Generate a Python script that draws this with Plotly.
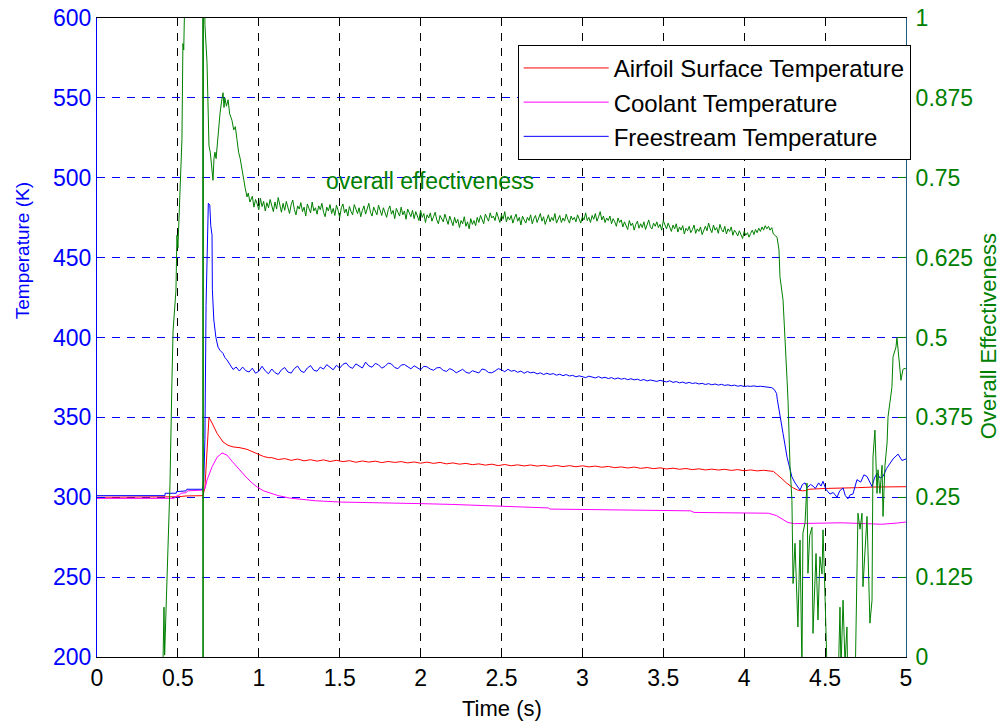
import numpy as np
import plotly.graph_objects as go

# ---------------- data ----------------
x_ticks = [0, 0.5, 1, 1.5, 2, 2.5, 3, 3.5, 4, 4.5, 5]
x_ticktext = ["0", "0.5", "1", "1.5", "2", "2.5", "3", "3.5", "4", "4.5", "5"]
temp_ticks = [200, 250, 300, 350, 400, 450, 500, 550, 600]
eff_ticks = [0, 0.125, 0.25, 0.375, 0.5, 0.625, 0.75, 0.875, 1]
eff_ticktext = ["0", "0.125", "0.25", "0.375", "0.5", "0.625", "0.75", "0.875", "1"]

# Freestream temperature (K)
free_early = [(0.0, 301.0), (0.42, 301.0), (0.421, 302.5), (0.49, 302.5), (0.491, 303.5),
              (0.55, 304.0), (0.555, 305.0), (0.652, 305.0), (0.660, 310.0), (0.667, 336.0),
              (0.674, 420.0), (0.682, 470.0), (0.688, 484.0), (0.697, 483.0), (0.703, 470.0),
              (0.711, 464.0), (0.713, 430.0), (0.722, 411.0), (0.735, 400.0), (0.748, 394.0),
              (0.760, 392.0), (0.779, 390.0), (0.790, 387.5), (0.803, 386.0), (0.820, 383.5),
              (0.841, 380.0), (0.860, 381.5), (0.880, 379.0)]
free_mid_start = 0.90
free_mid_step = 0.02
free_mid = [381.5, 379.2, 378.4, 380.8, 377.6, 378.9, 382.0, 379.1, 377.3, 380.3,
            378.0, 376.9, 379.8, 381.2, 378.4, 377.7, 380.6, 382.1, 379.0, 378.1,
            380.9, 382.4, 379.5, 378.9, 381.5, 380.2, 383.0, 381.1, 379.8, 382.6,
            380.8, 383.2, 384.1, 381.6, 380.7, 383.5, 382.0, 380.9, 384.6, 382.2,
            381.4, 383.8, 382.9, 380.8, 381.9, 384.0, 383.4, 381.2, 380.5, 382.7,
            383.1, 381.6, 380.4, 382.3, 381.0, 379.8, 382.0, 381.6, 380.2, 379.5,
            381.0, 381.2, 379.4, 378.8, 380.5, 379.6, 377.9, 379.0, 380.1, 378.3,
            377.6, 379.2, 378.6, 377.8, 380.3, 379.7, 378.1, 377.9, 379.0, 380.5,
            379.8, 378.6, 380.1, 378.9, 379.4, 378.2, 379.0, 377.6, 378.7, 377.9,
            378.3, 377.2, 377.9, 376.8, 377.6, 376.9, 377.4, 376.4, 377.0, 376.1,
            376.8, 375.9, 376.3, 375.4, 376.0, 375.6, 374.9, 375.8, 375.2, 374.7,
            375.5, 374.6, 375.1, 374.3, 374.9, 374.0, 374.7, 373.9, 374.4, 373.6,
            374.2, 373.5, 373.9, 373.1, 373.7, 372.8, 373.4, 373.0, 372.5, 373.2,
            372.7, 372.2, 372.9, 371.9, 372.4, 371.6, 372.1, 371.3, 371.9, 371.2,
            371.6, 370.9, 371.3, 370.6, 371.1, 370.4, 370.9, 370.2, 370.7, 370.0,
            370.4, 369.8, 370.2, 369.5, 369.9, 369.3, 369.6, 369.4, 369.7, 369.3,
            369.5, 369.2, 369.0]
free_late = [(4.17, 368.6), (4.185, 367.5), (4.20, 365.0), (4.205, 361.0), (4.221, 350.0),
             (4.24, 340.0), (4.265, 325.0), (4.28, 318.0), (4.295, 312.7), (4.314, 309.0),
             (4.33, 306.5), (4.345, 304.5), (4.36, 308.0), (4.376, 309.0), (4.39, 306.0),
             (4.41, 308.0), (4.425, 307.0), (4.44, 305.5), (4.46, 309.0), (4.475, 307.0),
             (4.487, 310.0), (4.505, 305.0), (4.53, 302.0), (4.55, 303.0), (4.574, 300.0),
             (4.59, 304.0), (4.611, 305.8), (4.625, 301.0), (4.641, 299.0), (4.655, 301.5),
             (4.672, 302.0), (4.685, 306.0), (4.697, 311.0), (4.72, 309.5), (4.74, 314.0),
             (4.759, 313.0), (4.775, 310.0), (4.79, 306.7), (4.805, 312.0), (4.821, 315.0),
             (4.84, 312.0), (4.858, 313.0), (4.88, 318.0), (4.901, 321.0), (4.92, 324.0),
             (4.951, 327.0), (4.975, 323.0), (5.0, 324.0)]

# Airfoil surface temperature (K)
surf_early = [(0.0, 300.0), (0.50, 300.3), (0.55, 300.8), (0.655, 301.0), (0.667, 306.0),
              (0.680, 329.6), (0.692, 350.0), (0.711, 346.5), (0.730, 342.0), (0.742, 340.0),
              (0.779, 334.6), (0.810, 332.5), (0.841, 331.5), (0.884, 331.0), (0.927, 330.0),
              (0.960, 328.5), (0.990, 327.2), (1.030, 325.5), (1.060, 324.8)]
surf_mid_start = 1.08
surf_mid_step = 0.04
surf_mid = [324.8, 323.6, 324.2, 323.1, 323.9, 322.8, 323.5, 322.6, 323.4, 322.4,
            323.1, 322.3, 322.9, 321.9, 322.7, 322.0, 322.6, 321.7, 322.4, 321.8,
            322.3, 321.5, 322.1, 321.3, 322.0, 321.2, 321.8, 320.9, 321.5, 320.7,
            321.2, 320.4, 320.9, 320.1, 320.7, 319.8, 320.5, 319.7, 320.3, 319.6,
            320.2, 319.5, 320.0, 319.3, 319.9, 319.2, 319.8, 319.1, 319.7, 319.0,
            319.5, 318.8, 319.3, 318.5, 319.0, 318.3, 318.9, 318.1, 318.6, 317.9,
            318.4, 317.7, 318.2, 317.5, 318.0, 317.3, 317.8, 317.1, 317.6, 317.0,
            317.5, 316.8, 317.3, 316.6, 317.1, 316.5, 316.9, 316.4]
surf_late = [(4.18, 316.2), (4.20, 314.5), (4.22, 313.0), (4.24, 311.0), (4.26, 309.0),
             (4.28, 307.5), (4.30, 306.0), (4.33, 304.5), (4.36, 304.0), (4.38, 304.2),
             (4.40, 305.0), (4.50, 305.5), (4.60, 305.6), (4.70, 306.0), (4.80, 306.4),
             (4.90, 306.6), (5.0, 306.6)]

# Coolant temperature (K)
cool_points = [(0.0, 299.3), (0.475, 299.3), (0.49, 300.6), (0.51, 301.5), (0.52, 302.6),
               (0.55, 302.8), (0.56, 304.0), (0.655, 304.5), (0.668, 305.5), (0.680, 310.8),
               (0.711, 319.0), (0.742, 325.0), (0.773, 327.7), (0.803, 326.4), (0.835, 322.5),
               (0.865, 319.0), (0.884, 316.5), (0.927, 312.0), (0.960, 308.8), (0.990, 306.4),
               (1.03, 304.0), (1.07, 302.6), (1.12, 301.0), (1.19, 299.5), (1.24, 298.9),
               (1.35, 297.8), (1.50, 297.0), (1.71, 296.4), (2.0, 296.0), (2.2, 295.5),
               (2.49, 294.2), (2.79, 293.3), (2.80, 292.6), (3.28, 292.2), (3.30, 291.9),
               (3.67, 291.5), (3.69, 290.5), (4.05, 290.2), (4.15, 290.0), (4.20, 288.5),
               (4.23, 286.5), (4.27, 284.2), (4.31, 283.5), (4.45, 283.9), (4.60, 284.0),
               (4.75, 283.5), (4.85, 283.1), (4.95, 283.9), (5.0, 284.5)]

# Overall effectiveness (-)
eff_early = [(0.405, -0.05), (0.408, 0.0), (0.414, 0.078), (0.418, 0.003), (0.426, 0.069),
             (0.440, 0.214), (0.451, 0.27), (0.463, 0.43), (0.470, 0.51), (0.488, 0.574),
             (0.494, 0.66), (0.500, 0.64), (0.513, 0.746), (0.525, 0.81), (0.531, 0.96),
             (0.536, 0.95), (0.544, 1.05), (0.58, 1.3), (0.64, 1.5), (0.653, 1.6),
             (0.654, -0.5), (0.657, -0.5), (0.658, 1.3), (0.665, 1.05), (0.667, 0.99),
             (0.680, 0.93), (0.686, 0.87), (0.692, 0.80), (0.700, 0.79), (0.706, 0.77),
             (0.711, 0.767), (0.717, 0.746), (0.723, 0.78), (0.729, 0.79), (0.736, 0.78),
             (0.742, 0.80), (0.750, 0.83), (0.760, 0.85), (0.770, 0.87), (0.779, 0.883),
             (0.785, 0.86), (0.790, 0.875), (0.800, 0.862), (0.810, 0.872), (0.820, 0.85),
             (0.834, 0.84), (0.845, 0.825), (0.855, 0.83), (0.865, 0.81), (0.875, 0.79),
             (0.885, 0.78), (0.896, 0.762), (0.905, 0.745), (0.915, 0.735), (0.927, 0.72),
             (0.935, 0.726), (0.945, 0.712)]
eff_mid_start = 0.96
eff_mid_step = 0.01
eff_mid = [0.721, 0.704, 0.716, 0.709, 0.700, 0.718, 0.705, 0.713, 0.698, 0.711,
           0.703, 0.716, 0.707, 0.697, 0.712, 0.701, 0.719, 0.704, 0.696, 0.710,
           0.699, 0.713, 0.705, 0.694, 0.708, 0.715, 0.700, 0.692, 0.706, 0.701,
           0.711, 0.697, 0.704, 0.690, 0.709, 0.702, 0.695, 0.712, 0.698, 0.703,
           0.693, 0.706, 0.700, 0.710, 0.696, 0.689, 0.704, 0.698, 0.708, 0.694,
           0.702, 0.691, 0.707, 0.699, 0.688, 0.703, 0.709, 0.695, 0.701, 0.690,
           0.705, 0.697, 0.692, 0.708, 0.700, 0.694, 0.703, 0.689, 0.699, 0.706,
           0.693, 0.701, 0.710, 0.696, 0.690, 0.704, 0.698, 0.692, 0.707, 0.697,
           0.691, 0.703, 0.695, 0.688, 0.700, 0.706, 0.693, 0.699, 0.686, 0.702,
           0.696, 0.690, 0.704, 0.692, 0.698, 0.685, 0.701, 0.694, 0.689, 0.699,
           0.686, 0.697, 0.691, 0.683, 0.699, 0.688, 0.694, 0.680, 0.692, 0.687,
           0.695, 0.682, 0.689, 0.696, 0.684, 0.678, 0.691, 0.686, 0.681, 0.693,
           0.684, 0.677, 0.690, 0.682, 0.675, 0.688, 0.679, 0.685, 0.672, 0.683,
           0.678, 0.689, 0.674, 0.681, 0.670, 0.686, 0.677, 0.683, 0.675, 0.688,
           0.680, 0.691, 0.684, 0.678, 0.693, 0.686, 0.682, 0.695, 0.687, 0.690,
           0.683, 0.696, 0.688, 0.680, 0.692, 0.685, 0.697, 0.681, 0.689, 0.684,
           0.691, 0.679, 0.687, 0.693, 0.682, 0.688, 0.676, 0.690, 0.684, 0.679,
           0.688, 0.683, 0.692, 0.678, 0.686, 0.691, 0.680, 0.687, 0.694, 0.682,
           0.689, 0.677, 0.685, 0.692, 0.681, 0.688, 0.683, 0.694, 0.679, 0.686,
           0.691, 0.680, 0.687, 0.682, 0.693, 0.685, 0.679, 0.690, 0.684, 0.688,
           0.681, 0.692, 0.686, 0.679, 0.689, 0.684, 0.695, 0.683, 0.688, 0.680,
           0.691, 0.685, 0.694, 0.682, 0.689, 0.697, 0.684, 0.690, 0.680, 0.687,
           0.683, 0.690, 0.678, 0.686, 0.681, 0.674, 0.687, 0.680, 0.684, 0.673,
           0.681, 0.676, 0.669, 0.683, 0.675, 0.679, 0.668, 0.677, 0.682, 0.671,
           0.678, 0.672, 0.681, 0.669, 0.676, 0.684, 0.673, 0.670, 0.679, 0.674,
           0.681, 0.672, 0.677, 0.668, 0.683, 0.675, 0.670, 0.679, 0.673, 0.666,
           0.676, 0.670, 0.678, 0.665, 0.673, 0.668, 0.675, 0.662, 0.671, 0.667,
           0.674, 0.664, 0.669, 0.676, 0.663, 0.670, 0.666, 0.673, 0.661, 0.668,
           0.674, 0.667, 0.679, 0.670, 0.664, 0.676, 0.668, 0.672, 0.663, 0.677,
           0.669, 0.665, 0.674, 0.662, 0.670, 0.666, 0.673, 0.660, 0.668, 0.664,
           0.659, 0.667, 0.662, 0.655, 0.666, 0.660, 0.664, 0.657, 0.663, 0.668,
           0.661, 0.669, 0.664, 0.671, 0.666, 0.673, 0.668, 0.675, 0.670, 0.674,
           0.668, 0.672, 0.662]
eff_late = [(4.203, 0.657), (4.215, 0.637), (4.221, 0.595), (4.24, 0.559), (4.252, 0.507),
            (4.265, 0.433), (4.271, 0.40), (4.283, 0.30), (4.295, 0.245), (4.302, 0.115),
            (4.314, 0.178), (4.326, 0.089), (4.332, 0.047), (4.345, 0.183), (4.357, -0.02),
            (4.363, 0.194), (4.376, 0.21), (4.388, 0.272), (4.394, 0.131), (4.405, 0.19),
            (4.419, 0.203), (4.425, 0.037), (4.444, 0.162), (4.456, 0.058), (4.468, 0.157),
            (4.481, 0.13), (4.487, 0.199), (4.499, 0.10), (4.512, -0.02), (4.549, -0.10),
            (4.58, -0.05), (4.592, 0.078), (4.598, -0.02), (4.611, 0.089), (4.623, -0.01),
            (4.635, 0.047), (4.641, -0.05), (4.685, -0.05), (4.697, 0.183), (4.703, 0.225),
            (4.716, 0.20), (4.728, 0.225), (4.734, 0.11), (4.746, 0.16), (4.759, 0.22),
            (4.765, 0.167), (4.777, 0.053), (4.79, 0.089), (4.796, 0.313), (4.808, 0.355),
            (4.821, 0.256), (4.827, 0.293), (4.839, 0.256), (4.852, 0.30), (4.858, 0.22),
            (4.87, 0.30), (4.883, 0.335), (4.889, 0.376), (4.901, 0.40), (4.913, 0.422),
            (4.92, 0.47), (4.938, 0.485), (4.944, 0.50), (4.957, 0.465), (4.969, 0.433),
            (4.981, 0.45), (4.994, 0.452), (5.0, 0.45)]


def assemble(early, mid_start, mid_step, mid, late):
    t = [p[0] for p in early]
    v = [p[1] for p in early]
    t += list(np.round(mid_start + mid_step * np.arange(len(mid)), 3))
    v += list(mid)
    t += [p[0] for p in late]
    v += [p[1] for p in late]
    return t, v


t_free, T_free = assemble(free_early, free_mid_start, free_mid_step, free_mid, free_late)
t_surf, T_surf = assemble(surf_early, surf_mid_start, surf_mid_step, surf_mid, surf_late)
t_cool = [p[0] for p in cool_points]
T_cool = [p[1] for p in cool_points]
t_eff, v_eff = assemble(eff_early, eff_mid_start, eff_mid_step, eff_mid, eff_late)

# ---------------- figure ----------------
BLUE = "#0000ff"
GREEN = "#008000"
FONT = "Arial, Liberation Sans, sans-serif"
DASH = "8px,7px"

fig = go.Figure()
fig.add_trace(go.Scatter(x=t_surf, y=T_surf, mode="lines", name="Airfoil Surface Temperature",
                         line=dict(color="#ff0000", width=1), legendgroup="a"))
fig.add_trace(go.Scatter(x=t_cool, y=T_cool, mode="lines", name="Coolant Temperature",
                         line=dict(color="#ff00ff", width=1), legendgroup="b"))
fig.add_trace(go.Scatter(x=t_free, y=T_free, mode="lines", name="Freestream Temperature",
                         line=dict(color=BLUE, width=1), legendgroup="c"))
fig.add_trace(go.Scatter(x=t_eff, y=v_eff, mode="lines", name="overall effectiveness",
                         line=dict(color=GREEN, width=1), yaxis="y2", showlegend=False))

fig.update_layout(
    width=1002, height=722,
    margin=dict(l=97, r=96, t=18, b=65, pad=0, autoexpand=False),
    paper_bgcolor="white", plot_bgcolor="white",
    font=dict(family=FONT, size=22, color="black"),
    xaxis=dict(range=[0, 5], tickvals=x_ticks, ticktext=x_ticktext, automargin=False,
               showline=True, linecolor="black", linewidth=1, mirror="ticks",
               ticks="inside", ticklen=8, tickcolor="black",
               showgrid=True, gridcolor="black", gridwidth=1, griddash=DASH,
               zeroline=False, tickfont=dict(size=23, color="black")),
    yaxis=dict(range=[200, 600], tickvals=temp_ticks, automargin=False,
               showline=True, linecolor=BLUE, linewidth=1,
               ticks="inside", ticklen=8, tickcolor=BLUE,
               showgrid=True, gridcolor=BLUE, gridwidth=1, griddash=DASH,
               zeroline=False, tickfont=dict(size=23, color=BLUE)),
    yaxis2=dict(range=[0, 1], tickvals=eff_ticks, ticktext=eff_ticktext, automargin=False,
                overlaying="y", side="right",
                showline=True, linecolor="#1f5a80", linewidth=1,
                ticks="inside", ticklen=8, tickcolor=GREEN, ticklabelstandoff=4,
                showgrid=False, zeroline=False, tickfont=dict(size=23, color=GREEN)),
    legend=dict(x=0.52, y=0.958, xanchor="left", yanchor="top",
                bgcolor="white", bordercolor="black", borderwidth=1,
                font=dict(size=24, color="black"), itemwidth=85,
                tracegroupgap=0, traceorder="grouped"),
    annotations=[
        dict(text="Temperature (K)", xref="paper", yref="paper", x=0, y=0.635,
             xshift=-75, textangle=-90, showarrow=False, xanchor="center", yanchor="middle",
             font=dict(size=19, color=BLUE)),
        dict(text="Overall Effectiveness", xref="paper", yref="paper", x=1, y=0.502,
             xshift=82, textangle=-90, showarrow=False, xanchor="center", yanchor="middle",
             font=dict(size=22, color=GREEN)),
        dict(text="Time (s)", xref="paper", yref="paper", x=0.5, y=0, yshift=-51,
             showarrow=False, xanchor="center", yanchor="middle",
             font=dict(size=22, color="black")),
        dict(text="overall effectiveness", xref="x", yref="y2", x=2.06, y=0.745,
             showarrow=False, xanchor="center", yanchor="middle",
             font=dict(size=23, color=GREEN)),
    ],
)

fig.write_html("out.html")
